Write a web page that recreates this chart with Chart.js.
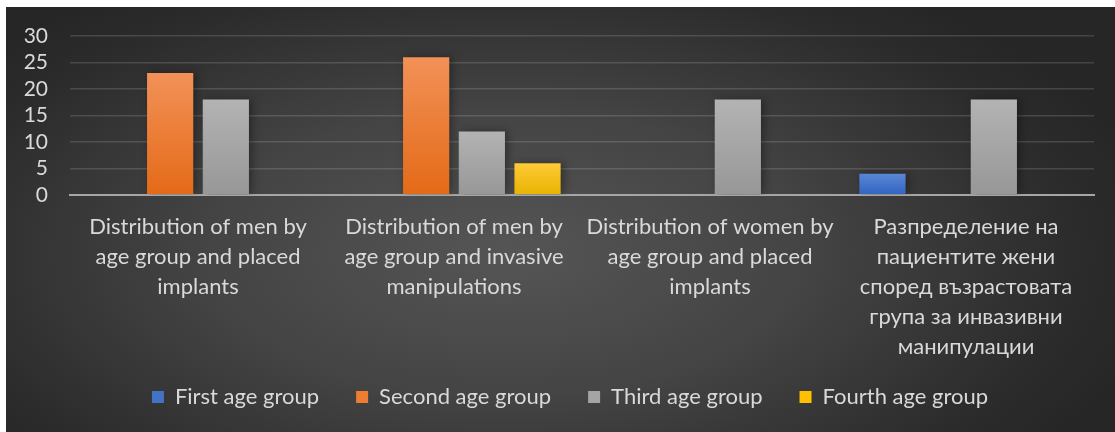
<!DOCTYPE html>
<html>
<head>
<meta charset="utf-8">
<script src="https://cdn.jsdelivr.net/npm/chart.js@4"></script>
<style>
  html, body { margin: 0; padding: 0; background: #fff; overflow: hidden; }
  #panel {
    position: absolute; left: 6px; top: 7px; width: 1109px; height: 425px;
    background: radial-gradient(ellipse 60% 75% at 45% 58%, #555 0%, #444 45%, #2c2c2c 85%, #262626 100%);
  }
</style>
</head>
<body>
<div id="panel"><canvas id="myChart"></canvas></div>
<script>
const categories = [
  ["Distribution of men by", "age group and placed", "implants"],
  ["Distribution of men by", "age group and invasive", "manipulations"],
  ["Distribution of women by", "age group and placed", "implants"],
  ["Разпределение на", "пациентите жени", "според възрастовата", "група за инвазивни", "манипулации"],
];
const seriesNames = ["First age group", "Second age group", "Third age group", "Fourth age group"];
const firstGroup = [0, 0, 0, 4];
const secondGroup = [23, 26, 0, 0];
const thirdGroup = [18, 12, 18, 18];
const fourthGroup = [0, 6, 0, 0];
const yTicks = [0, 5, 10, 15, 20, 25, 30];

// flat colour, gradient top, gradient bottom
const palette = [
  ["#4472c4", "#5b86d6", "#3064c0"],
  ["#ed7d31", "#f29158", "#e46a17"],
  ["#a5a5a5", "#b3b3b3", "#979797"],
  ["#ffc000", "#ffca38", "#e8b300"],
];
const textColor = "#d9d9d9";
const font = "Lato, 'Open Sans', sans-serif";

function barFill(i) {
  return (c) => {
    const y = c.chart.scales.y;
    if (!y || c.raw == null) return palette[i][0];
    const top = y.getPixelForValue(c.raw);
    const bottom = y.getPixelForValue(0);
    if (!isFinite(top) || top === bottom) return palette[i][0];
    const g = c.chart.ctx.createLinearGradient(0, top, 0, bottom);
    g.addColorStop(0, palette[i][1]);
    g.addColorStop(1, palette[i][2]);
    return g;
  };
}

const values = [firstGroup, secondGroup, thirdGroup, fourthGroup];
const datasets = seriesNames.map((name, i) => ({
  label: name,
  data: values[i],
  backgroundColor: barFill(i),
  barPercentage: 0.83,
  categoryPercentage: 0.87,
}));

// soft shadow behind the bars
const barShadow = {
  id: "barShadow",
  beforeDatasetsDraw(chart) {
    const ctx = chart.ctx;
    ctx.save();
    ctx.shadowColor = "rgba(0,0,0,0.35)";
    ctx.shadowBlur = 8;
    ctx.shadowOffsetX = 3;
    ctx.shadowOffsetY = 0;
  },
  afterDatasetsDraw(chart) {
    chart.ctx.restore();
  },
};

// fixed legend height, items drawn a bit higher so the axis labels keep their room
const legendFit = {
  id: "legendFit",
  afterInit(chart) {
    const legend = chart.legend;
    const fit = legend.fit;
    const draw = legend.draw;
    legend.fit = function () {
      fit.call(this);
      this.height = 67;
    };
    legend.draw = function () {
      const ctx = this.ctx;
      ctx.save();
      ctx.translate(20, -16);
      draw.call(this);
      ctx.restore();
    };
  },
};

const ctx = document.getElementById("myChart").getContext("2d");
const myChart = new Chart(ctx, {
  type: "bar",
  data: { labels: categories, datasets },
  plugins: [barShadow, legendFit],
  options: {
    responsive: true,
    maintainAspectRatio: false,
    animation: false,
    layout: { padding: { top: 29, right: 21, bottom: 0, left: 0 } },
    scales: {
      y: {
        min: 0,
        max: 30,
        afterBuildTicks: (scale) => { scale.ticks = yTicks.map((v) => ({ value: v })); },
        afterFit: (scale) => {
          scale.width = 64;
          scale.paddingTop = 0;
          scale.paddingBottom = 0;
        },
        border: { display: false },
        grid: {
          drawTicks: false,
          color: (c) => (c.tick && c.tick.value === 0 ? "#a6a6a6" : "rgba(255,255,255,0.14)"),
          lineWidth: (c) => (c.tick && c.tick.value === 0 ? 2 : 1.5),
        },
        ticks: { color: textColor, padding: 22, autoSkip: false, font: { family: font, size: 21 } },
      },
      x: {
        afterFit: (scale) => { scale.height = 170; },
        border: { display: true, color: "#a6a6a6", width: 2 },
        grid: { display: false },
        ticks: {
          color: textColor,
          padding: 9,
          maxRotation: 0,
          autoSkip: false,
          font: { family: font, size: 22, lineHeight: 1.36 },
        },
      },
    },
    plugins: {
      legend: {
        display: true,
        position: "bottom",
        labels: {
          color: textColor,
          boxWidth: 12,
          boxHeight: 12,
          padding: 37,
          font: { family: font, size: 22 },
          generateLabels: (chart) =>
            Chart.defaults.plugins.legend.labels.generateLabels(chart).map((l, i) => ({
              ...l,
              fillStyle: palette[i][0],
              strokeStyle: palette[i][0],
              lineWidth: 0,
            })),
        },
      },
      tooltip: { enabled: false },
    },
  },
});
</script>
</body>
</html>
